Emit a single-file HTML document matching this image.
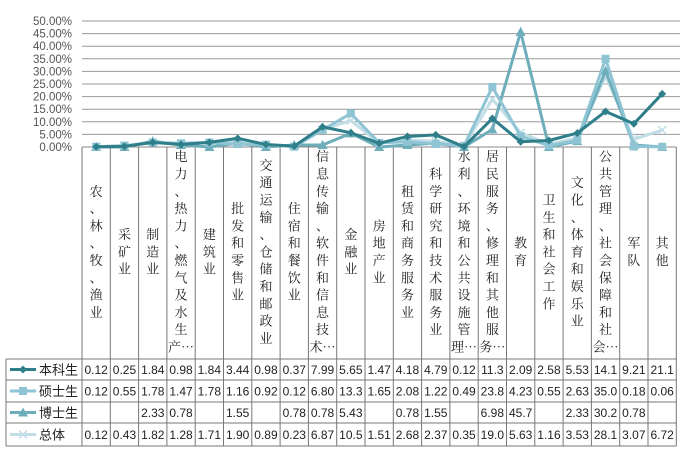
<!DOCTYPE html>
<html><head><meta charset="utf-8"><style>
body{margin:0;background:#fff;width:694px;height:461px;overflow:hidden}
svg{display:block}
</style></head><body>
<svg id="s" width="694" height="461" xmlns="http://www.w3.org/2000/svg"></svg>
<script>
const s=document.getElementById('s');
let h='';
const X0=82,W=28.3,Y0=147,K=2.52;
const font='font-family="Liberation Sans, Noto Sans CJK SC, sans-serif"';
const cj='font-family="Noto Serif CJK SC, Noto Sans CJK SC, serif"';
// gridlines & y labels
for(let i=0;i<=10;i++){const y=Y0-i*5*K;
 if(i>0)h+=`<line x1="${X0}" x2="680" y1="${y}" y2="${y}" stroke="#9a9a9a" stroke-width="1"/>`;
 h+=`<text x="72" y="${y+4}" text-anchor="end" font-size="11.5" fill="#555" ${font}>${(i*5).toFixed(2)}%</text>`;}
const cats=["农、林、牧、渔业","采矿业","制造业","电力、热力、燃气及水生产…","建筑业","批发和零售业","交通运输、仓储和邮政业","住宿和餐饮业","信息传输、软件和信息技术…","金融业","房地产业","租赁和商务服务业","科学研究和技术服务业","水利、环境和公共设施管理…","居民服务、修理和其他服务…","教育","卫生和社会工作","文化、体育和娱乐业","公共管理、社会保障和社会…","军队","其他"];
const XR=X0+W*21;
// table/category frame
const rows=[359,380,402,423,446];
h+=`<line x1="${X0}" x2="${XR}" y1="${Y0}" y2="${Y0}" stroke="#888"/>`;
for(let i=0;i<=21;i++){const x=X0+i*W;h+=`<line x1="${x}" x2="${x}" y1="${Y0}" y2="446" stroke="#777"/>`;}
h+=`<line x1="6" x2="6" y1="359" y2="446" stroke="#777"/>`;
rows.forEach(y=>h+=`<line x1="6" x2="${XR}" y1="${y}" y2="${y}" stroke="#777"/>`);
// category labels
cats.forEach((c,i)=>{let ch=[...c];let arr=[];for(let k=0;k<ch.length;k++){if(ch[k+1]==='…'){arr.push(ch[k]+'…');k++;}else arr.push(ch[k]);}
 const p=17.3,tot=arr.length*p,top=252-tot/2;const cx=X0+W*(i+.5);
 arr.forEach((t,k)=>{h+=`<text x="${cx}" y="${top+k*p+13}" text-anchor="middle" font-size="13" fill="#222" ${cj}>${t}</text>`;});});
const D=[
["本科生","#2f7f8a","d",[0.12,0.25,1.84,0.98,1.84,3.44,0.98,0.37,7.99,5.65,1.47,4.18,4.79,0.12,11.3,2.09,2.58,5.53,14.1,9.21,21.1],null],
["硕士生","#8ec4d4","s",[0.12,0.55,1.78,1.47,1.78,1.16,0.92,0.12,6.80,13.3,1.65,2.08,1.22,0.49,23.8,4.23,0.55,2.63,35.0,0.18,0.06],null],
["博士生","#6eaebb","t",[0,0,2.33,0.78,0,1.55,0,0.78,0.78,5.43,0,0.78,1.55,0,6.98,45.7,0,2.33,30.2,0.78,0],["","","2.33","0.78","","1.55","","0.78","0.78","5.43","","0.78","1.55","","6.98","45.7","","2.33","30.2","0.78",""]],
["总体","#c3dde6","x",[0.12,0.43,1.82,1.28,1.71,1.90,0.89,0.23,6.87,10.5,1.51,2.68,2.37,0.35,19.0,5.63,1.16,3.53,28.1,3.07,6.72],null]];
function mk(t,x,y,c){if(t=='d')return `<path d="M${x} ${y-4}L${x+4} ${y}L${x} ${y+4}L${x-4} ${y}Z" fill="${c}"/>`;
 if(t=='s')return `<rect x="${x-4}" y="${y-4}" width="8" height="8" fill="${c}"/>`;
 if(t=='t')return `<path d="M${x} ${y-5}L${x+5} ${y+4}L${x-5} ${y+4}Z" fill="${c}"/>`;
 return `<path d="M${x-4} ${y-4}L${x+4} ${y+4}M${x+4} ${y-4}L${x-4} ${y+4}" stroke="${c}" stroke-width="1.5"/>`;}
const order=[3,2,1,0];
order.forEach(j=>{const [n,c,t,v]=D[j];const pts=v.map((a,i)=>[X0+W*(i+.5),Y0-a*K]);
 h+=`<polyline points="${pts.map(p=>p.join(',')).join(' ')}" fill="none" stroke="${c}" stroke-width="3"/>`;
 pts.forEach(p=>h+=mk(t,p[0],p[1],c));});
D.forEach((d,j)=>{const [n,c,t,v,lab]=d;const yc=(rows[j]+rows[j+1])/2;
 h+=`<line x1="10" x2="36" y1="${yc}" y2="${yc}" stroke="${c}" stroke-width="3"/>`+mk(t,23,yc,c);
 h+=`<text x="39" y="${yc+5}" font-size="13" fill="#222" ${font}>${n}</text>`;
 v.forEach((a,i)=>{const txt=lab?lab[i]:(a>=10?a.toFixed(1):a.toFixed(2));
  h+=`<text x="${X0+W*(i+.5)}" y="${yc+4.5}" text-anchor="middle" font-size="12" fill="#222" ${font}>${txt}</text>`;});});
s.innerHTML=h;
</script>
</body></html>
